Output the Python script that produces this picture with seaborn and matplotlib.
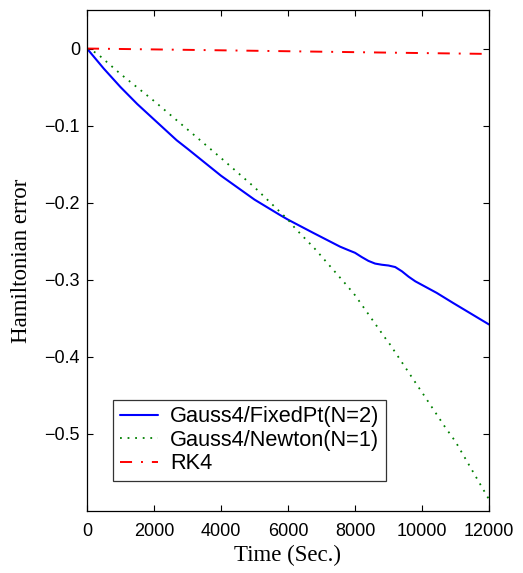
import matplotlib
matplotlib.use("Agg")
import matplotlib.pyplot as plt
import seaborn as sns
import numpy as np
import pandas as pd

# Data
t_fixed = [0, 500, 1000, 1500, 2000, 2677, 3000, 4000, 5000, 5761, 6000, 6746, 7552,
           7800, 8000, 8200, 8400, 8600, 8800, 9000, 9200, 9400, 9600, 9800, 10438, 10925, 12000]
h_fixed = [0, -0.026, -0.050, -0.072, -0.092, -0.119, -0.130, -0.165, -0.196, -0.216,
           -0.222, -0.239, -0.257, -0.2615, -0.265, -0.2705, -0.2755, -0.279, -0.2805,
           -0.2815, -0.2835, -0.289, -0.296, -0.302, -0.317, -0.330, -0.358]

t_newton = [0, 289, 1000, 2000, 3000, 3272, 4000, 5000, 6000, 6209, 6806, 7750, 8000,
            8925, 9000, 9890, 10000, 10687, 11000, 11881, 12000]
h_newton = [0, -0.006, -0.033, -0.068, -0.105, -0.115, -0.142, -0.180, -0.222, -0.233,
            -0.260, -0.307, -0.320, -0.377, -0.381, -0.439, -0.446, -0.491, -0.510,
            -0.576, -0.585]

t_rk4 = [0, 3000, 6000, 9000, 12000]
h_rk4 = [0, -0.0017, -0.0035, -0.0053, -0.007]

labels = ["Gauss4/FixedPt(N=2)", "Gauss4/Newton(N=1)", "RK4"]
xticks = [0, 2000, 4000, 6000, 8000, 10000, 12000]
yticks = [0, -0.1, -0.2, -0.3, -0.4, -0.5]

sns.set_theme(style="white")
plt.rcParams["font.family"] = ["Liberation Sans", "DejaVu Sans"]
plt.rcParams["text.color"] = "black"
plt.rcParams["axes.labelcolor"] = "black"

fig = plt.figure(figsize=(5.23, 5.73), dpi=100)
ax = fig.add_axes([87 / 523, 1 - 511 / 573, 402 / 523, 501 / 573])

sns.lineplot(x=t_fixed, y=h_fixed, ax=ax, color="#0000ff", lw=1.5,
             label=labels[0], sort=False)
sns.lineplot(x=t_newton, y=h_newton, ax=ax, color="#008000", lw=1.3,
             label=labels[1], sort=False)
sns.lineplot(x=t_rk4, y=h_rk4, ax=ax, color="#ff0000", lw=1.4,
             label=labels[2], sort=False)
lines = ax.get_lines()
lines[1].set_linestyle((0, (1, 3.2)))
lines[2].set_linestyle((0, (6.2, 4.6, 1, 4.6)))

ax.set_xlim(0, 12000)
ax.set_ylim(-0.6, 0.05)
ax.set_xticks(xticks)
ax.set_xticklabels([str(v) for v in xticks])
ax.set_yticks(yticks)
ax.set_yticklabels(["0"] + ["\u2212" + f"{abs(v):g}" for v in yticks[1:]])
ax.tick_params(axis="both", direction="in", length=4, width=0.8, top=True, right=True,
               bottom=True, left=True, labelsize=13, colors="black")
ax.tick_params(axis="x", pad=9)
ax.tick_params(axis="y", pad=5)
for s in ax.spines.values():
    s.set_visible(True)
    s.set_color("black")
    s.set_linewidth(0.9)

ax.set_xlabel("Time (Sec.)", fontfamily="Liberation Serif", fontsize=16.5, labelpad=3,
              color="black")
ax.set_ylabel("Hamiltonian error", fontfamily="Liberation Serif", fontsize=16.5,
              labelpad=9, color="black")

leg = ax.legend(loc="lower left", bbox_to_anchor=(0.065, 0.06), borderaxespad=0,
                fontsize=15.7, frameon=True, fancybox=False, handlelength=1.75,
                borderpad=0.3, labelspacing=0.12, handletextpad=0.55)
leg.get_frame().set_edgecolor("black")
leg.get_frame().set_linewidth(0.9)
for tx in leg.get_texts():
    tx.set_color("black")

fig.savefig("out.png", dpi=100, facecolor="white")
